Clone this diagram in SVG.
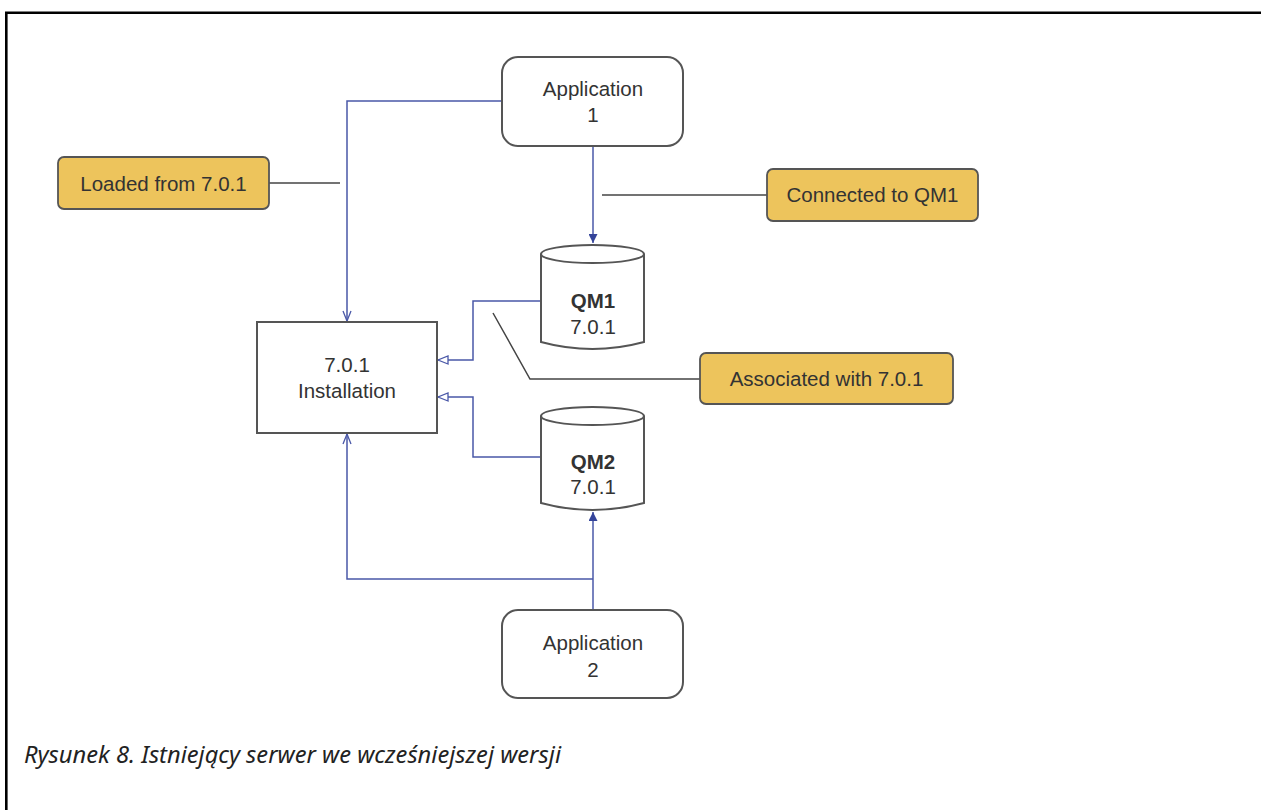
<svg xmlns="http://www.w3.org/2000/svg" width="1261" height="810" viewBox="0 0 1261 810">
  <style>
    .node { fill: #ffffff; stroke: #555555; stroke-width: 2; }
    .note { fill: #edc45c; stroke: #555555; stroke-width: 1.8; }
    .lbl { font-family: "Liberation Sans", Arial, sans-serif; font-size: 20.5px; fill: #333333; text-anchor: middle; }
    .bold { font-weight: bold; }
    .wire { fill: none; stroke: #4a58a8; stroke-width: 1.5; }
    .lead { fill: none; stroke: #444444; stroke-width: 1.5; }
    .caption { font-family: "Noto Sans", "Open Sans", sans-serif; font-style: italic; font-size: 24px; fill: #222222; }
  </style>
  <defs>
    <marker id="solid" viewBox="0 0 10 10" refX="10" refY="5" markerWidth="9" markerHeight="9" markerUnits="userSpaceOnUse" orient="auto">
      <path d="M0,0 L10,5 L0,10 Z" fill="#34449a"/>
    </marker>
    <marker id="hollow" viewBox="0 0 12 10" refX="11" refY="5" markerWidth="12" markerHeight="10" markerUnits="userSpaceOnUse" orient="auto">
      <path d="M1,1 L11,5 L1,9 Z" fill="#ffffff" stroke="#4a58a8" stroke-width="1.3"/>
    </marker>
    <marker id="open" viewBox="0 0 12 10" refX="11" refY="5" markerWidth="12" markerHeight="10" markerUnits="userSpaceOnUse" orient="auto">
      <path d="M1,1 L11,5 L1,9" fill="none" stroke="#4a58a8" stroke-width="1.3"/>
    </marker>
  </defs>

  <!-- figure frame -->
  <path d="M6.3,810 V12.8 H1261" fill="none" stroke="#000000" stroke-width="2.6"/>

  <!-- connectors -->
  <g id="connectors">
    <path class="wire" d="M502,101 H347 V321" marker-end="url(#open)"/>
    <path class="wire" d="M593,146 V243" marker-end="url(#solid)"/>
    <path class="wire" d="M541,301 H473 V360 H438" marker-end="url(#hollow)"/>
    <path class="wire" d="M541,457 H473 V397 H438" marker-end="url(#hollow)"/>
    <path class="wire" d="M593,610 V512" marker-end="url(#solid)"/>
    <path class="wire" d="M593,579 H347 V434" marker-end="url(#open)"/>
    <path class="lead" d="M269,183 H340"/>
    <path class="lead" d="M602,195 H767"/>
    <path class="lead" d="M493,313 L530,379 H700"/>
  </g>

  <g id="app1">
    <rect class="node" x="502" y="57" width="181" height="89" rx="16"/>
    <text class="lbl" x="593" y="96">Application</text>
    <text class="lbl" x="593" y="122">1</text>
  </g>

  <g id="qm1">
    <path class="node" d="M541,254 V342 Q592.5,356 644,342 V254"/>
    <ellipse class="node" cx="592.5" cy="254" rx="51.5" ry="9"/>
    <text class="lbl bold" x="593" y="308">QM1</text>
    <text class="lbl" x="593" y="334">7.0.1</text>
  </g>

  <g id="qm2">
    <path class="node" d="M541,416 V503 Q592.5,517 644,503 V416"/>
    <ellipse class="node" cx="592.5" cy="416" rx="51.5" ry="9"/>
    <text class="lbl bold" x="593" y="469">QM2</text>
    <text class="lbl" x="593" y="494">7.0.1</text>
  </g>

  <g id="installation">
    <rect class="node" x="257" y="322" width="180" height="111"/>
    <text class="lbl" x="347" y="372">7.0.1</text>
    <text class="lbl" x="347" y="398">Installation</text>
  </g>

  <g id="app2">
    <rect class="node" x="502" y="610" width="181" height="88" rx="16"/>
    <text class="lbl" x="593" y="650">Application</text>
    <text class="lbl" x="593" y="677">2</text>
  </g>

  <g id="note-loaded">
    <rect class="note" x="58" y="157" width="211" height="52" rx="6"/>
    <text class="lbl" x="163.5" y="191">Loaded from 7.0.1</text>
  </g>

  <g id="note-connected">
    <rect class="note" x="767" y="169" width="211" height="52" rx="6"/>
    <text class="lbl" x="872.5" y="202">Connected to QM1</text>
  </g>

  <g id="note-associated">
    <rect class="note" x="700" y="353" width="253" height="51" rx="6"/>
    <text class="lbl" x="826.5" y="386">Associated with 7.0.1</text>
  </g>

  <text class="caption" x="24" y="763" textLength="537" lengthAdjust="spacingAndGlyphs">Rysunek 8. Istniejący serwer we wcześniejszej wersji</text>
</svg>
